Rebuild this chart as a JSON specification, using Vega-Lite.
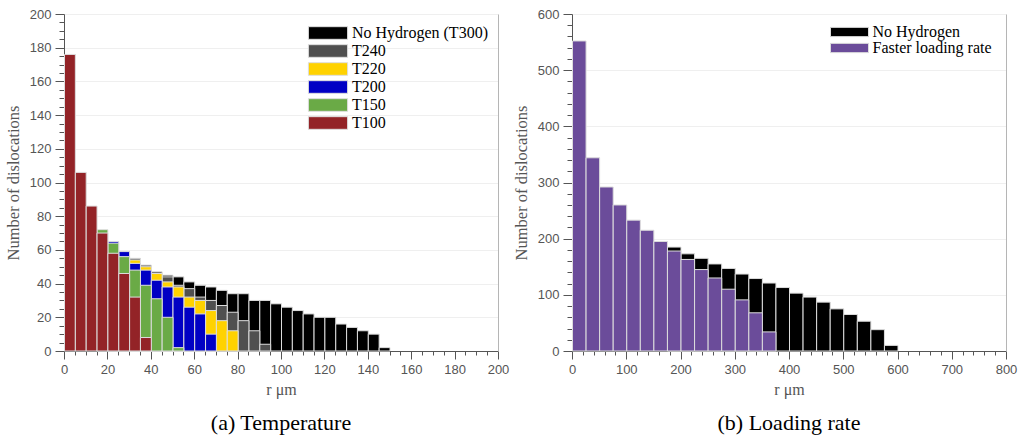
{
  "$schema": "https://vega.github.io/schema/vega-lite/v6.json",
  "padding": {"left": 5, "top": 8, "right": 5, "bottom": 5},
  "spacing": 4,
  "config": {
    "view": {"stroke": null},
    "bar": {"binSpacing": 0, "stroke": "#dddddd", "strokeWidth": 1},
    "axis": {
      "labelFont": "Liberation Sans", "labelFontSize": 13, "labelColor": "#555555",
      "titleFont": "Liberation Serif", "titleFontSize": 16, "titleFontWeight": "normal", "titleColor": "#555555",
      "domainColor": "#555555", "tickColor": "#555555", "gridColor": "#efefef",
      "labelFlush": false, "labelOverlap": false, "labelBound": false
    },
    "legend": {"labelFont": "Liberation Serif", "labelFontSize": 16, "labelColor": "#000000", "padding": 0},
    "title": {"font": "Liberation Serif", "fontSize": 22, "fontWeight": "normal", "color": "#000000"}
  },
  "datasets": {
    "temperature": [
      {"series": "No Hydrogen (T300)", "r": 45, "n": 45},
      {"series": "No Hydrogen (T300)", "r": 50, "n": 44},
      {"series": "No Hydrogen (T300)", "r": 55, "n": 41},
      {"series": "No Hydrogen (T300)", "r": 60, "n": 39},
      {"series": "No Hydrogen (T300)", "r": 65, "n": 38},
      {"series": "No Hydrogen (T300)", "r": 70, "n": 36},
      {"series": "No Hydrogen (T300)", "r": 75, "n": 34},
      {"series": "No Hydrogen (T300)", "r": 80, "n": 34},
      {"series": "No Hydrogen (T300)", "r": 85, "n": 30},
      {"series": "No Hydrogen (T300)", "r": 90, "n": 30},
      {"series": "No Hydrogen (T300)", "r": 95, "n": 28},
      {"series": "No Hydrogen (T300)", "r": 100, "n": 26},
      {"series": "No Hydrogen (T300)", "r": 105, "n": 24},
      {"series": "No Hydrogen (T300)", "r": 110, "n": 22},
      {"series": "No Hydrogen (T300)", "r": 115, "n": 20},
      {"series": "No Hydrogen (T300)", "r": 120, "n": 20},
      {"series": "No Hydrogen (T300)", "r": 125, "n": 16},
      {"series": "No Hydrogen (T300)", "r": 130, "n": 14},
      {"series": "No Hydrogen (T300)", "r": 135, "n": 12},
      {"series": "No Hydrogen (T300)", "r": 140, "n": 10},
      {"series": "No Hydrogen (T300)", "r": 145, "n": 2},
      {"series": "T240", "r": 30, "n": 55},
      {"series": "T240", "r": 35, "n": 51},
      {"series": "T240", "r": 40, "n": 47},
      {"series": "T240", "r": 45, "n": 44},
      {"series": "T240", "r": 50, "n": 39},
      {"series": "T240", "r": 55, "n": 37},
      {"series": "T240", "r": 60, "n": 32},
      {"series": "T240", "r": 65, "n": 30},
      {"series": "T240", "r": 70, "n": 27},
      {"series": "T240", "r": 75, "n": 23},
      {"series": "T240", "r": 80, "n": 18},
      {"series": "T240", "r": 85, "n": 12},
      {"series": "T240", "r": 90, "n": 4},
      {"series": "T220", "r": 30, "n": 54},
      {"series": "T220", "r": 35, "n": 50},
      {"series": "T220", "r": 40, "n": 46},
      {"series": "T220", "r": 45, "n": 41},
      {"series": "T220", "r": 50, "n": 38},
      {"series": "T220", "r": 55, "n": 32},
      {"series": "T220", "r": 60, "n": 30},
      {"series": "T220", "r": 65, "n": 24},
      {"series": "T220", "r": 70, "n": 18},
      {"series": "T220", "r": 75, "n": 12},
      {"series": "T200", "r": 20, "n": 65},
      {"series": "T200", "r": 25, "n": 59},
      {"series": "T200", "r": 30, "n": 52},
      {"series": "T200", "r": 35, "n": 48},
      {"series": "T200", "r": 40, "n": 42},
      {"series": "T200", "r": 45, "n": 38},
      {"series": "T200", "r": 50, "n": 32},
      {"series": "T200", "r": 55, "n": 26},
      {"series": "T200", "r": 60, "n": 22},
      {"series": "T200", "r": 65, "n": 10},
      {"series": "T150", "r": 15, "n": 72},
      {"series": "T150", "r": 20, "n": 64},
      {"series": "T150", "r": 25, "n": 56},
      {"series": "T150", "r": 30, "n": 48},
      {"series": "T150", "r": 35, "n": 39},
      {"series": "T150", "r": 40, "n": 31},
      {"series": "T150", "r": 45, "n": 20},
      {"series": "T150", "r": 50, "n": 2},
      {"series": "T100", "r": 0, "n": 176},
      {"series": "T100", "r": 5, "n": 106},
      {"series": "T100", "r": 10, "n": 86},
      {"series": "T100", "r": 15, "n": 70},
      {"series": "T100", "r": 20, "n": 58},
      {"series": "T100", "r": 25, "n": 46},
      {"series": "T100", "r": 30, "n": 32},
      {"series": "T100", "r": 35, "n": 8}
    ],
    "loading": [
      {"series": "No Hydrogen", "r": 175, "n": 185},
      {"series": "No Hydrogen", "r": 200, "n": 173},
      {"series": "No Hydrogen", "r": 225, "n": 165},
      {"series": "No Hydrogen", "r": 250, "n": 155},
      {"series": "No Hydrogen", "r": 275, "n": 147},
      {"series": "No Hydrogen", "r": 300, "n": 137},
      {"series": "No Hydrogen", "r": 325, "n": 129},
      {"series": "No Hydrogen", "r": 350, "n": 121},
      {"series": "No Hydrogen", "r": 375, "n": 113},
      {"series": "No Hydrogen", "r": 400, "n": 103},
      {"series": "No Hydrogen", "r": 425, "n": 96},
      {"series": "No Hydrogen", "r": 450, "n": 87},
      {"series": "No Hydrogen", "r": 475, "n": 75},
      {"series": "No Hydrogen", "r": 500, "n": 65},
      {"series": "No Hydrogen", "r": 525, "n": 53},
      {"series": "No Hydrogen", "r": 550, "n": 38},
      {"series": "No Hydrogen", "r": 575, "n": 10},
      {"series": "Faster loading rate", "r": 0, "n": 552},
      {"series": "Faster loading rate", "r": 25, "n": 344},
      {"series": "Faster loading rate", "r": 50, "n": 292},
      {"series": "Faster loading rate", "r": 75, "n": 260},
      {"series": "Faster loading rate", "r": 100, "n": 233},
      {"series": "Faster loading rate", "r": 125, "n": 215},
      {"series": "Faster loading rate", "r": 150, "n": 195},
      {"series": "Faster loading rate", "r": 175, "n": 178},
      {"series": "Faster loading rate", "r": 200, "n": 163},
      {"series": "Faster loading rate", "r": 225, "n": 145},
      {"series": "Faster loading rate", "r": 250, "n": 130},
      {"series": "Faster loading rate", "r": 275, "n": 110},
      {"series": "Faster loading rate", "r": 300, "n": 91},
      {"series": "Faster loading rate", "r": 325, "n": 68},
      {"series": "Faster loading rate", "r": 350, "n": 34}
    ]
  },
  "resolve": {"scale": {"color": "independent", "x": "independent", "y": "independent"}},
  "hconcat": [
    {
      "width": 434, "height": 337,
      "data": {"name": "temperature"},
      "title": {"text": "(a) Temperature", "orient": "bottom", "offset": 16},
      "encoding": {
        "x": {
          "field": "r", "type": "quantitative", "bin": {"binned": true, "step": 5},
          "scale": {"domain": [0, 200], "nice": false},
          "axis": {
            "title": "r μm", "titlePadding": 5,
            "values": [0,5,10,15,20,25,30,35,40,45,50,55,60,65,70,75,80,85,90,95,100,105,110,115,120,125,130,135,140,145,150,155,160,165,170,175,180,185,190,195,200],
            "labelExpr": "datum.value % 20 === 0 ? datum.label : ''",
            "tickSize": {"condition": {"test": "datum.value % 20 === 0", "value": 8}, "value": 4},
            "labelPadding": 4, "grid": false, "format": "d"
          }
        },
        "color": {
          "field": "series", "type": "nominal",
          "scale": {"domain": ["No Hydrogen (T300)", "T240", "T220", "T200", "T150", "T100"],
                    "range": ["#000000", "#505050", "#FFD200", "#0000C4", "#6AAA46", "#932327"]},
          "legend": {"title": null, "orient": "none", "legendX": 243, "legendY": 11,
                     "symbolType": "M-3.1,-1H3.1V1H-3.1Z", "symbolSize": 160, "symbolStrokeWidth": 0,
                     "symbolOffset": 13, "labelOffset": 16, "rowPadding": 0}
        }
      },
      "layer": [
        {
          "transform": [{"filter": "datum.series === 'No Hydrogen (T300)'"}],
          "mark": {"type": "bar"},
          "encoding": {
            "y": {"field": "n", "type": "quantitative", "stack": null,
                  "scale": {"domain": [0, 200], "nice": false},
                  "axis": {"orient": "right", "labels": false, "ticks": false, "grid": false, "title": null, "domainColor": "#b5b5b5"}}
          }
        },
        {
          "transform": [{"filter": "datum.series !== 'No Hydrogen (T300)'"}],
          "mark": {"type": "bar"},
          "encoding": {
            "y": {"field": "n", "type": "quantitative", "stack": null,
                  "scale": {"domain": [0, 200], "nice": false},
                  "axis": {
                    "orient": "left", "title": "Number of dislocations", "titlePadding": 8, "titleFontSize": 16.5,
                    "values": [0,5,10,15,20,25,30,35,40,45,50,55,60,65,70,75,80,85,90,95,100,105,110,115,120,125,130,135,140,145,150,155,160,165,170,175,180,185,190,195,200],
                    "labelExpr": "datum.value % 20 === 0 ? datum.label : ''",
                    "tickSize": {"condition": {"test": "datum.value % 20 === 0", "value": 9}, "value": 5},
                    "gridOpacity": {"condition": {"test": "datum.value % 20 === 0", "value": 1}, "value": 0},
                    "labelPadding": 4, "grid": true, "format": "d"
                  }}
          }
        }
      ],
      "resolve": {"axis": {"y": "independent"}}
    },
    {
      "width": 434, "height": 337,
      "data": {"name": "loading"},
      "title": {"text": "(b) Loading rate", "orient": "bottom", "offset": 16},
      "encoding": {
        "x": {
          "field": "r", "type": "quantitative", "bin": {"binned": true, "step": 25},
          "scale": {"domain": [0, 800], "nice": false},
          "axis": {
            "title": "r μm", "titlePadding": 5,
            "values": [0,20,40,60,80,100,120,140,160,180,200,220,240,260,280,300,320,340,360,380,400,420,440,460,480,500,520,540,560,580,600,620,640,660,680,700,720,740,760,780,800],
            "labelExpr": "datum.value % 100 === 0 ? datum.label : ''",
            "tickSize": {"condition": {"test": "datum.value % 100 === 0", "value": 8}, "value": 4},
            "labelPadding": 4, "grid": false, "format": "d"
          }
        },
        "color": {
          "field": "series", "type": "nominal",
          "scale": {"domain": ["No Hydrogen", "Faster loading rate"], "range": ["#000000", "#6B4C9A"]},
          "legend": {"title": null, "orient": "none", "legendX": 255, "legendY": 10,
                     "symbolType": "M-4.1,-1H4.1V1H-4.1Z", "symbolSize": 86, "symbolStrokeWidth": 0,
                     "symbolOffset": 14.5, "labelOffset": 15, "rowPadding": 0}
        }
      },
      "layer": [
        {
          "transform": [{"filter": "datum.series === 'No Hydrogen'"}],
          "mark": {"type": "bar"},
          "encoding": {
            "y": {"field": "n", "type": "quantitative", "stack": null,
                  "scale": {"domain": [0, 600], "nice": false},
                  "axis": {"orient": "right", "labels": false, "ticks": false, "grid": false, "title": null, "domainColor": "#b5b5b5"}}
          }
        },
        {
          "transform": [{"filter": "datum.series !== 'No Hydrogen'"}],
          "mark": {"type": "bar"},
          "encoding": {
            "y": {"field": "n", "type": "quantitative", "stack": null,
                  "scale": {"domain": [0, 600], "nice": false},
                  "axis": {
                    "orient": "left", "title": "Number of dislocations", "titlePadding": 8, "titleFontSize": 16.5,
                    "values": [0,20,40,60,80,100,120,140,160,180,200,220,240,260,280,300,320,340,360,380,400,420,440,460,480,500,520,540,560,580,600],
                    "labelExpr": "datum.value % 100 === 0 ? datum.label : ''",
                    "tickSize": {"condition": {"test": "datum.value % 100 === 0", "value": 9}, "value": 5},
                    "gridOpacity": {"condition": {"test": "datum.value % 100 === 0", "value": 1}, "value": 0},
                    "labelPadding": 4, "grid": true, "format": "d"
                  }}
          }
        }
      ],
      "resolve": {"axis": {"y": "independent"}}
    }
  ]
}
